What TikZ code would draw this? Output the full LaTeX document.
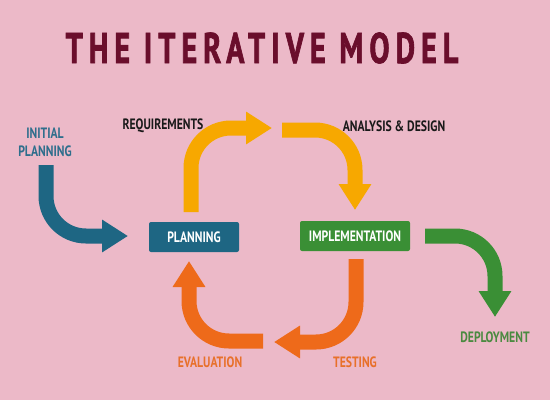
\documentclass[tikz,border=0pt]{standalone}
\usepackage{fontspec}
\setmainfont{PT Sans}
\newfontfamily\condfont[FakeStretch=0.78]{PT Sans}
\newfontfamily\titlefont[FakeStretch=0.70,LetterSpace=14,FakeBold=1.5]{PT Sans}
\usetikzlibrary{arrows.meta}
\definecolor{bgpink}{HTML}{ECB9C8}
\definecolor{titlecol}{HTML}{6A0E2C}
\definecolor{bluecol}{HTML}{1E6683}
\definecolor{yellowcol}{HTML}{F7A800}
\definecolor{orangecol}{HTML}{EE6A1A}
\definecolor{greencol}{HTML}{3A8F35}
\definecolor{bluetext}{HTML}{2E6E8C}
\definecolor{orangetext}{HTML}{E8702A}
\definecolor{greentext}{HTML}{4A8A40}
\tikzset{
  band/.style={line width=15pt, rounded corners=40pt, -{Triangle[length=26pt,width=31pt]}},
  lbl/.style={font=\condfont\bfseries\fontsize{15}{17}\selectfont, inner sep=0pt, align=center},
  boxnode/.style={rounded corners=2pt, text=white, font=\condfont\bfseries\fontsize{15}{17}\selectfont, inner sep=0pt},
}
\begin{document}
\begin{tikzpicture}[x=1pt,y=-1pt]
\fill[bgpink] (0,0) rectangle (550,400);
\useasboundingbox (0,0) rectangle (550,400);

\node[text=titlecol, font=\titlefont\bfseries\fontsize{43}{45}\selectfont, inner sep=0pt] (title) at (262,48) {THE ITERATIVE MODEL};

\node[boxnode, fill=bluecol, minimum width=90pt, minimum height=30pt] (plan) at (194,237) {PLANNING};
\node[boxnode, fill=greencol, minimum width=110pt, minimum height=30pt] (impl) at (355,236) {IMPLEMENTATION};

\node[lbl, text=bluetext] (init) at (45,142) {INITIAL\\[1pt]PLANNING};
\node[lbl, text=black!90] (req) at (163,126) {REQUIREMENTS};
\node[lbl, text=black!90] (ana) at (394,126) {ANALYSIS \& DESIGN};
\node[lbl, text=orangetext] (eva) at (210,362) {EVALUATION};
\node[lbl, text=orangetext] (tes) at (355,362) {TESTING};
\node[lbl, text=greentext] (dep) at (495,337) {DEPLOYMENT};

% arrow coordinates
\coordinate (b1) at (46,165); \coordinate (b2) at (46,236); \coordinate (b3) at (128,236);
\coordinate (y1) at (191,212); \coordinate (y2) at (191,128); \coordinate (y3) at (272,128);
\coordinate (y4) at (282,130); \coordinate (y5) at (355,130); \coordinate (y6) at (355,210);
\coordinate (o1) at (356,259); \coordinate (o2) at (356,342); \coordinate (o3) at (274,342);
\coordinate (o4) at (263,341); \coordinate (o5) at (189,341); \coordinate (o6) at (189,261);
\coordinate (g1) at (425,236); \coordinate (g2) at (495,236); \coordinate (g3) at (495,317);

\draw[band, bluecol] (b1) -- (b2) -- (b3);
\draw[band, yellowcol] (y1) -- (y2) -- (y3);
\draw[band, yellowcol] (y4) -- (y5) -- (y6);
\draw[band, orangecol] (o1) -- (o2) -- (o3);
\draw[band, orangecol] (o4) -- (o5) -- (o6);
\draw[band, greencol] (g1) -- (g2) -- (g3);
\end{tikzpicture}
\end{document}
